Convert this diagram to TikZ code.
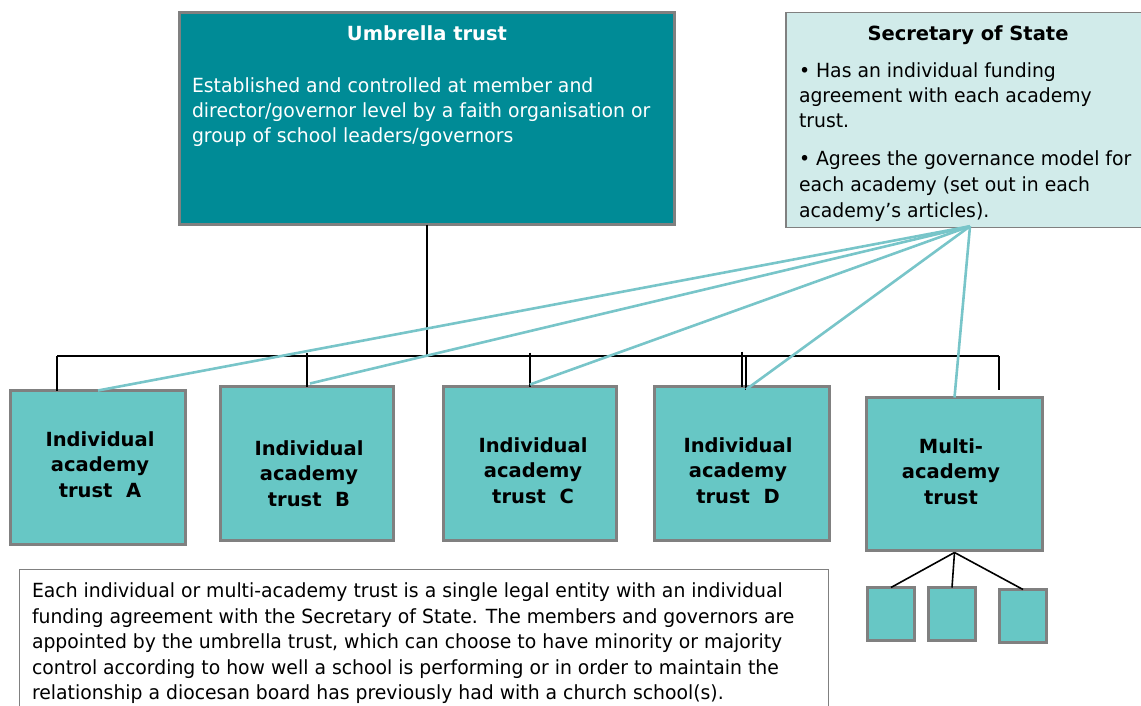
\documentclass[tikz,border=0pt]{standalone}
\usepackage{fontspec}
\setmainfont{DejaVu Sans}[FakeStretch=0.965]
\newfontfamily\headfont{DejaVu Sans}
\usetikzlibrary{calc}
\definecolor{umbfill}{RGB}{0,139,150}
\definecolor{sosfill}{RGB}{209,235,234}
\definecolor{boxfill}{RGB}{103,199,197}
\definecolor{edgegray}{RGB}{128,128,128}
\definecolor{sosline}{RGB}{120,197,201}
\begin{document}
\begin{tikzpicture}[x=1pt,y=-1pt,
  every node/.style={inner sep=0pt,outer sep=0pt},
  umbbox/.style={draw=edgegray,line width=3pt,fill=umbfill},
  sosbox/.style={draw=edgegray,line width=1.5pt,fill=sosfill},
  trustbox/.style={draw=edgegray,line width=3pt,fill=boxfill},
  notebox/.style={draw=edgegray,line width=1pt,fill=white},
  bodytext/.style={font=\fontsize{19.5}{25.5}\selectfont,align=left,anchor=base west},
  headtext/.style={font=\headfont\bfseries\fontsize{19.5}{25.5}\selectfont,align=center,anchor=base},
  busline/.style={line width=2.8pt,black},
  dropline/.style={line width=1.6pt,black},
  sosconn/.style={line width=2.6pt,sosline},
  ]
\useasboundingbox (0,0) rectangle (1141,706);
% boxes
\node[umbbox,minimum width=495pt,minimum height=212pt] (umb) at (427,118.5) {};
\node[sosbox,minimum width=356pt,minimum height=214.5pt] (sos) at (964,120) {};
\node[trustbox,minimum width=175pt,minimum height=154pt] (A) at (98,467.5) {};
\node[trustbox,minimum width=173pt,minimum height=154pt] (B) at (307,463.5) {};
\node[trustbox,minimum width=173pt,minimum height=154pt] (C) at (530,463.5) {};
\node[trustbox,minimum width=175pt,minimum height=154pt] (D) at (742,463.5) {};
\node[trustbox,minimum width=176pt,minimum height=153pt] (M) at (954.5,474) {};
\node[trustbox,minimum width=47pt,minimum height=53pt] (s1) at (891,614) {};
\node[trustbox,minimum width=47pt,minimum height=53pt] (s2) at (952,614) {};
\node[trustbox,minimum width=47pt,minimum height=53pt] (s3) at (1023,616) {};
\node[notebox,minimum width=809pt,minimum height=150.5pt] (notebx) at (424,644.75) {};
% black hierarchy
\coordinate (busL) at (57,356);
\coordinate (busR) at (999,356);
\coordinate (mdrop) at (999,390);
\draw[dropline] (umb.south) -- (umb.south |- busL);
\draw[busline] (busL) -- (busR);
\draw[dropline] (busL) -- (busL |- A.north);
\draw[dropline] ($(B.north)+(0,-34)$) -- (B.north);
\draw[dropline] ($(C.north)+(0,-34)$) -- (C.north);
\draw[dropline] ($(D.north)+(0,-35)$) -- (D.north);
\draw[dropline] ($(D.north)+(4,-30)$) -- ($(D.north)+(4,3)$);
\draw[dropline] (busR) -- (mdrop);
% multi-academy sub-boxes
\coordinate (mhub) at ($(M.south)+(0,2)$);
\draw[dropline] (mhub) -- (s1.north);
\draw[dropline] (mhub) -- (s2.north);
\draw[dropline] (mhub) -- (s3.north);
% Secretary of State links
\coordinate (sosp) at ($(sos.south)+(6,-1)$);
\draw[sosconn] (sosp) -- (A.north);
\draw[sosconn] (sosp) -- ($(B.north)+(3,-3)$);
\draw[sosconn] (sosp) -- ($(C.north)+(0,-2)$);
\draw[sosconn] (sosp) -- ($(D.north)+(4,3)$);
\draw[sosconn] (sosp) -- (M.north);
% texts (base anchor = baseline of last line)
\node[headtext,text=white] (umbT) at (427,41) {Umbrella trust};
\node[bodytext,text=white] (umbB) at (192,143) {Established and controlled at member and\\director/governor level by a faith organisation or\\group of school leaders/governors};
\node[headtext] (sosT) at (968,41) {Secretary of State};
\node[bodytext] (sosB) at (799,217) {• Has an individual funding\\agreement with each academy\\trust.\\[12.5pt]• Agrees the governance model for\\each academy (set out in each\\academy’s articles).};
\node[headtext] (Atxt) at (100,497) {Individual\\academy\\trust~~A};
\node[headtext] (Btxt) at (309,506) {Individual\\academy\\trust~~B};
\node[headtext] (Ctxt) at (533,503) {Individual\\academy\\trust~~C};
\node[headtext] (Dtxt) at (738,503) {Individual\\academy\\trust~~D};
\node[headtext] (Mtxt) at (951,504) {Multi-\\academy\\trust};
\node[bodytext] (notetxt) at (32,699.5) {Each individual or multi-academy trust is a single legal entity with an individual\\funding agreement with the Secretary of State. The members and governors are\\appointed by the umbrella trust, which can choose to have minority or majority\\control according to how well a school is performing or in order to maintain the\\relationship a diocesan board has previously had with a church school(s).};
\end{tikzpicture}
\end{document}
